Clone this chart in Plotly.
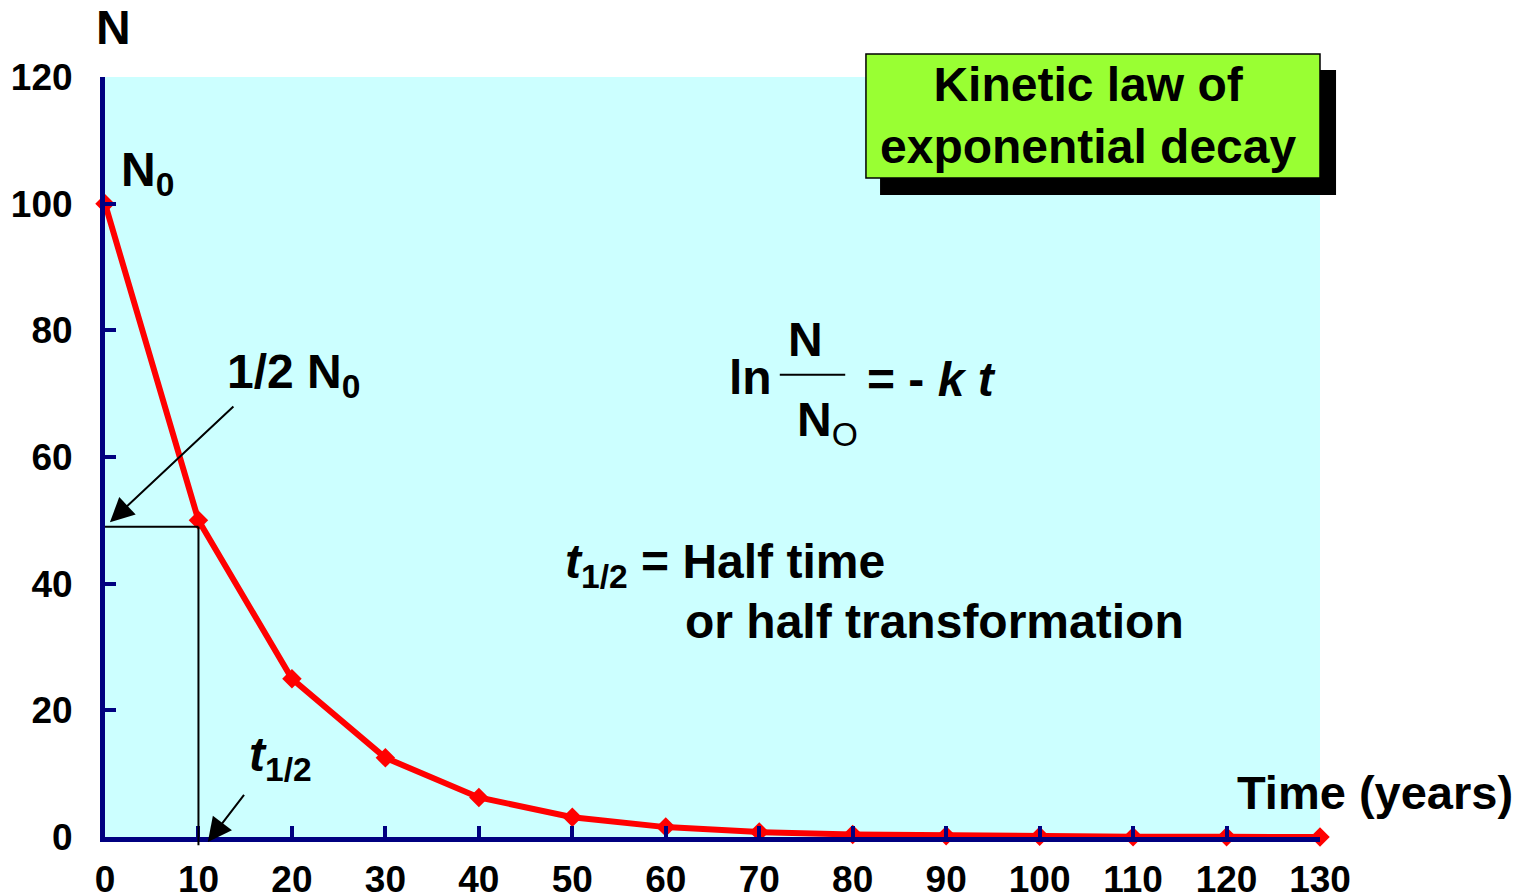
import plotly.graph_objects as go

# Decay curve: amount N remaining after each 10-year step
time_years = [0, 10, 20, 30, 40, 50, 60, 70, 80, 90, 100, 110, 120, 130]
n_remaining = [100, 50, 25, 12.5, 6.25, 3.13, 1.56, 0.78, 0.39, 0.2, 0.1, 0.05, 0.02, 0.01]

x_ticks = list(range(0, 131, 10))
y_ticks = list(range(0, 121, 20))

HALF_TIME = 10
HALF_LEVEL = 49
X_MAX, Y_MAX = 130, 120

FONT = "Liberation Sans, Arial, sans-serif"
NAVY = "#000080"
TXT = 48

fig = go.Figure()

fig.add_trace(go.Scatter(
    x=time_years, y=n_remaining, mode="lines+markers",
    line=dict(color="#FF0000", width=6),
    marker=dict(symbol="diamond", size=15, color="#FF0000"),
    cliponaxis=False, showlegend=False, hoverinfo="x+y",
))

shapes = [
    # half-life guide lines
    dict(type="line", xref="x", yref="y", x0=0, x1=HALF_TIME, y0=HALF_LEVEL, y1=HALF_LEVEL,
         line=dict(color="black", width=2)),
    dict(type="line", xref="x", yref="paper", x0=HALF_TIME, x1=HALF_TIME,
         y0=-0.011, y1=HALF_LEVEL / Y_MAX, line=dict(color="black", width=2)),
    # title box with drop shadow
    dict(type="rect", xref="paper", yref="paper", x0=0.6379, x1=1.0132, y0=0.8447, y1=1.0092,
         fillcolor="black", line=dict(width=0)),
    dict(type="rect", xref="paper", yref="paper", x0=0.6263, x1=1.0, y0=0.8671, y1=1.0303,
         fillcolor="#99FF33", line=dict(color="black", width=1.5)),
    # fraction bar of ln(N/N0)
    dict(type="line", xref="x", yref="y", x0=72.2, x1=79.2, y0=73.0, y1=73.0,
         line=dict(color="black", width=2)),
]


def label(text, x, y, xanchor="left", yanchor="middle", size=TXT, align="left",
          xref="x", yref="y"):
    return dict(text=text, x=x, y=y, xref=xref, yref=yref, xanchor=xanchor, yanchor=yanchor,
                showarrow=False, align=align,
                font=dict(family=FONT, size=size, color="black"))


annotations = [
    label("<b>N</b>", 0.0066, 1.0645, xanchor="center", xref="paper", yref="paper"),
    label("<b>N<sub>0</sub></b>", 1.5, 104.8),
    label("<b>1/2 N<sub>0</sub></b>", 12.8, 73.0),
    label("<b><i>t</i><sub>1/2</sub></b>", 15.2, 12.5),
    label("<b>Time (years)</b>", 120.9, 7.1, size=47),
    label("<b>Kinetic law of<br>exponential decay</b>", 105.2, 114.0, xanchor="center",
          align="center"),
    label("<b><i>t</i><sub>1/2</sub> = Half time</b>", 49.0, 42.9),
    label("<b>or half transformation</b>", 61.8, 34.1),
    # ln N/N0 = -k t
    label("<b>ln</b>", 66.6, 72.6),
    label("<b>N</b>", 75.0, 78.5, xanchor="center"),
    label("<b>N</b><sub>O</sub>", 73.8, 65.4),
    label("<b>= - <i>k t</i></b>", 81.3, 72.2),
    # arrows
    dict(x=0.53, y=49.7, ax=13.9, ay=68.2, xref="x", yref="y", axref="x", ayref="y",
         text="", showarrow=True, arrowhead=2, arrowsize=2.4, arrowwidth=2, arrowcolor="black"),
    dict(x=11.0, y=-0.8, ax=15.0, ay=6.9, xref="x", yref="y", axref="x", ayref="y",
         text="", showarrow=True, arrowhead=2, arrowsize=2.4, arrowwidth=2, arrowcolor="black"),
]

axis_common = dict(
    showgrid=False, zeroline=False, showline=True, linecolor=NAVY, linewidth=5,
    ticks="inside", tickcolor=NAVY, tickwidth=4, ticklen=11, automargin=False,
    tickfont=dict(family=FONT, size=37, color="black", weight="bold"),
    mirror=False,
)

fig.update_layout(
    width=1527, height=896,
    margin=dict(l=105, r=207, t=77, b=59),
    paper_bgcolor="white", plot_bgcolor="#CCFFFF",
    xaxis=dict(range=[0, X_MAX], tickvals=x_ticks, ticklabelstandoff=6, **axis_common),
    yaxis=dict(range=[0, Y_MAX], tickvals=y_ticks, ticklabelstandoff=20, **axis_common),
    shapes=shapes, annotations=annotations, showlegend=False,
)

fig.write_html("out.html")
